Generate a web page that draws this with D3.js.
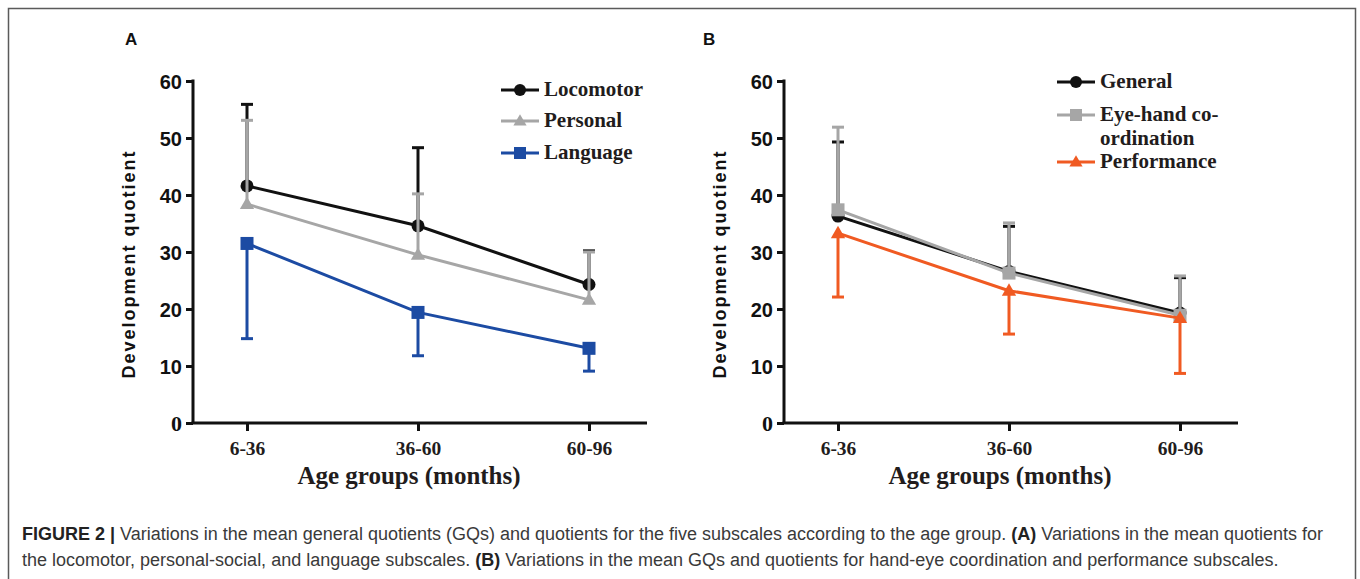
<!DOCTYPE html>
<html>
<head>
<meta charset="utf-8">
<script src="https://cdn.jsdelivr.net/npm/d3@7"></script>
<style>
  html, body { margin: 0; padding: 0; background: #fff; }
  svg { display: block; }
</style>
</head>
<body>
<div id="figure"></div>
<script>
/**
 * DATA
 * */
const ageGroups = ["6-36", "36-60", "60-96"];
const yTicks = [0, 10, 20, 30, 40, 50, 60];

// panel A
const locomotorMean = [41.6, 34.6, 24.3];
const locomotorSD = [14.3, 13.7, 5.9];
const personalMean = [38.4, 29.5, 21.6];
const personalSD = [14.7, 10.7, 8.4];
const languageMean = [31.5, 19.4, 13.1];
const languageSD = [16.7, 7.6, 4.0];

// panel B
const generalMean = [36.3, 26.6, 19.3];
const generalSD = [13.0, 7.9, 6.2];
const eyeHandMean = [37.4, 26.3, 18.9];
const eyeHandSD = [14.5, 8.8, 6.9];
const performanceMean = [33.3, 23.2, 18.4];
const performanceSD = [11.2, 7.6, 9.7];

const captionBold = "FIGURE 2 | ";
const captionLine1 = "Variations in the mean general quotients (GQs) and quotients for the five subscales according to the age group. ";
const captionLine1b = "Variations in the mean quotients for";
const captionLine2 = "the locomotor, personal-social, and language subscales. ";
const captionLine2b = " Variations in the mean GQs and quotients for hand-eye coordination and performance subscales.";

/**
 * CONSTANTS
 * */
const width = 1360, height = 579;
const black = "#111111", gray = "#a6a6a6", blue = "#1c4ba3", orange = "#f05a22";
const sans = "'Liberation Sans', Arial, sans-serif";
const serif = "'Liberation Serif', 'Times New Roman', serif";

const panels = [
  {
    label: "A", left: 193, right: 647, first: 247, last: 589, labelX: 125,
    legendX: 501,
    series: [
      { name: ["Locomotor"], mean: locomotorMean, sd: locomotorSD, color: black, shape: "circle", dir: 1, legendY: 90 },
      { name: ["Personal"], mean: personalMean, sd: personalSD, color: gray, shape: "triangle", dir: 1, legendY: 121 },
      { name: ["Language"], mean: languageMean, sd: languageSD, color: blue, shape: "square", dir: -1, legendY: 153 }
    ]
  },
  {
    label: "B", left: 784, right: 1238, first: 838, last: 1180, labelX: 703,
    legendX: 1057,
    series: [
      { name: ["General"], mean: generalMean, sd: generalSD, color: black, shape: "circle", dir: 1, legendY: 82 },
      { name: ["Eye-hand co-", "ordination"], mean: eyeHandMean, sd: eyeHandSD, color: gray, shape: "square", dir: 1, legendY: 115 },
      { name: ["Performance"], mean: performanceMean, sd: performanceSD, color: orange, shape: "triangle", dir: -1, legendY: 162 }
    ]
  }
];

const y = d3.scaleLinear().domain([0, 60]).range([423, 81]);

const svg = d3.select("#figure").append("svg")
  .attr("width", width)
  .attr("height", height)
  .attr("viewBox", [0, 0, width, height]);

// frame
svg.append("path")
  .attr("d", `M8.5,${height + 2}V8.5H1355.5V${height + 2}`)
  .attr("fill", "none")
  .attr("stroke", "#5a5a5a")
  .attr("stroke-width", 1.5);

function marker(sel, shape, color, size) {
  if (shape === "circle") {
    sel.append("circle").attr("r", size / 2).attr("fill", color);
  } else if (shape === "square") {
    sel.append("rect").attr("x", -size / 2).attr("y", -size / 2)
      .attr("width", size).attr("height", size).attr("fill", color);
  } else {
    const h = size * 0.95;
    sel.append("path")
      .attr("d", `M0,${-h * 0.6}L${size * 0.55},${h * 0.4}L${-size * 0.55},${h * 0.4}Z`)
      .attr("fill", color);
  }
}

panels.forEach(p => {
  const g = svg.append("g");
  const x = d3.scalePoint().domain(ageGroups).range([p.first, p.last]);

  // panel label
  g.append("text")
    .attr("x", p.labelX).attr("y", 45)
    .attr("font-family", sans).attr("font-weight", "bold").attr("font-size", 17)
    .attr("fill", "#111")
    .text(p.label);

  // y axis
  const yAxis = g.append("g")
    .attr("transform", `translate(${p.left},0)`)
    .call(d3.axisLeft(y).tickValues(yTicks).tickSize(7).tickSizeOuter(0).tickPadding(4));
  yAxis.select(".domain").attr("stroke", black).attr("stroke-width", 3)
    .attr("d", `M0,${y(60) - 1.5}V${y(0)}`);
  yAxis.selectAll(".tick line").attr("stroke", black).attr("stroke-width", 3);
  yAxis.selectAll(".tick text")
    .attr("font-family", d => d === 0 ? serif : sans)
    .attr("font-weight", "bold")
    .attr("font-size", d => d === 0 ? 22 : 20)
    .attr("fill", "#111")
    .attr("dy", "0.36em");

  // x axis
  const xAxis = g.append("g")
    .attr("transform", `translate(0,${y(0)})`)
    .call(d3.axisBottom(x).tickSize(8).tickSizeOuter(0).tickPadding(10));
  xAxis.select(".domain").attr("stroke", black).attr("stroke-width", 3)
    .attr("d", `M${p.left - 1.5},0H${p.right}`);
  xAxis.selectAll(".tick line").attr("stroke", black).attr("stroke-width", 3);
  xAxis.selectAll(".tick text")
    .attr("font-family", serif).attr("font-weight", "bold").attr("font-size", 19.5)
    .attr("fill", "#221c1c");

  // axis titles
  g.append("text")
    .attr("x", (p.left + p.right) / 2 - 11).attr("y", 484)
    .attr("text-anchor", "middle")
    .attr("font-family", serif).attr("font-weight", "bold").attr("font-size", 25)
    .attr("fill", "#221c1c")
    .text("Age groups (months)");

  g.append("text")
    .attr("transform", `translate(${p.left - 58},264) rotate(-90)`)
    .attr("text-anchor", "middle")
    .attr("font-family", sans).attr("font-weight", "bold").attr("font-size", 18)
    .attr("letter-spacing", 2)
    .attr("fill", "#111")
    .text("Development quotient");

  // series
  p.series.forEach(s => {
    const pts = ageGroups.map((a, i) => ({ a, m: s.mean[i], e: s.mean[i] + s.dir * s.sd[i] }));
    const sg = g.append("g");

    // error bars
    sg.selectAll("line.stem").data(pts).join("line")
      .attr("x1", d => x(d.a)).attr("x2", d => x(d.a))
      .attr("y1", d => y(d.m)).attr("y2", d => y(d.e))
      .attr("stroke", s.color).attr("stroke-width", 3);
    sg.selectAll("line.cap").data(pts).join("line")
      .attr("x1", d => x(d.a) - 6).attr("x2", d => x(d.a) + 6)
      .attr("y1", d => y(d.e)).attr("y2", d => y(d.e))
      .attr("stroke", s.color).attr("stroke-width", 3);

    // line
    sg.append("path")
      .datum(pts)
      .attr("fill", "none")
      .attr("stroke", s.color)
      .attr("stroke-width", 3)
      .attr("d", d3.line().x(d => x(d.a)).y(d => y(d.m)));

    // markers
    sg.selectAll("g.pt").data(pts).join("g")
      .attr("transform", d => `translate(${x(d.a)},${y(d.m)})`)
      .each(function () { marker(d3.select(this), s.shape, s.color, 13); });

    // legend
    const lg = g.append("g").attr("transform", `translate(${p.legendX},${s.legendY})`);
    lg.append("line").attr("x1", 0).attr("x2", 38).attr("stroke", s.color).attr("stroke-width", 3);
    lg.append("g").attr("transform", "translate(19,0)")
      .each(function () { marker(d3.select(this), s.shape, s.color, 12); });
    const t = lg.append("text")
      .attr("x", 43).attr("y", 6)
      .attr("font-family", serif).attr("font-weight", "bold").attr("font-size", 21)
      .attr("fill", "#221c1c");
    s.name.forEach((n, i) => {
      t.append("tspan").attr("x", 43).attr("dy", i === 0 ? 0 : 24).text(n);
    });
  });
});

// caption
const cap = svg.append("g")
  .attr("font-family", sans).attr("font-size", 18).attr("fill", "#3a3a3a");
const c1 = cap.append("text").attr("x", 22).attr("y", 540);
c1.append("tspan").attr("font-weight", "bold").attr("fill", "#222").text(captionBold);
c1.append("tspan").text(captionLine1);
c1.append("tspan").attr("font-weight", "bold").attr("fill", "#222").text("(A)");
c1.append("tspan").text(" " + captionLine1b);
const c2 = cap.append("text").attr("x", 22).attr("y", 566);
c2.append("tspan").text(captionLine2);
c2.append("tspan").attr("font-weight", "bold").attr("fill", "#222").text("(B)");
c2.append("tspan").text(captionLine2b);
</script>
</body>
</html>
